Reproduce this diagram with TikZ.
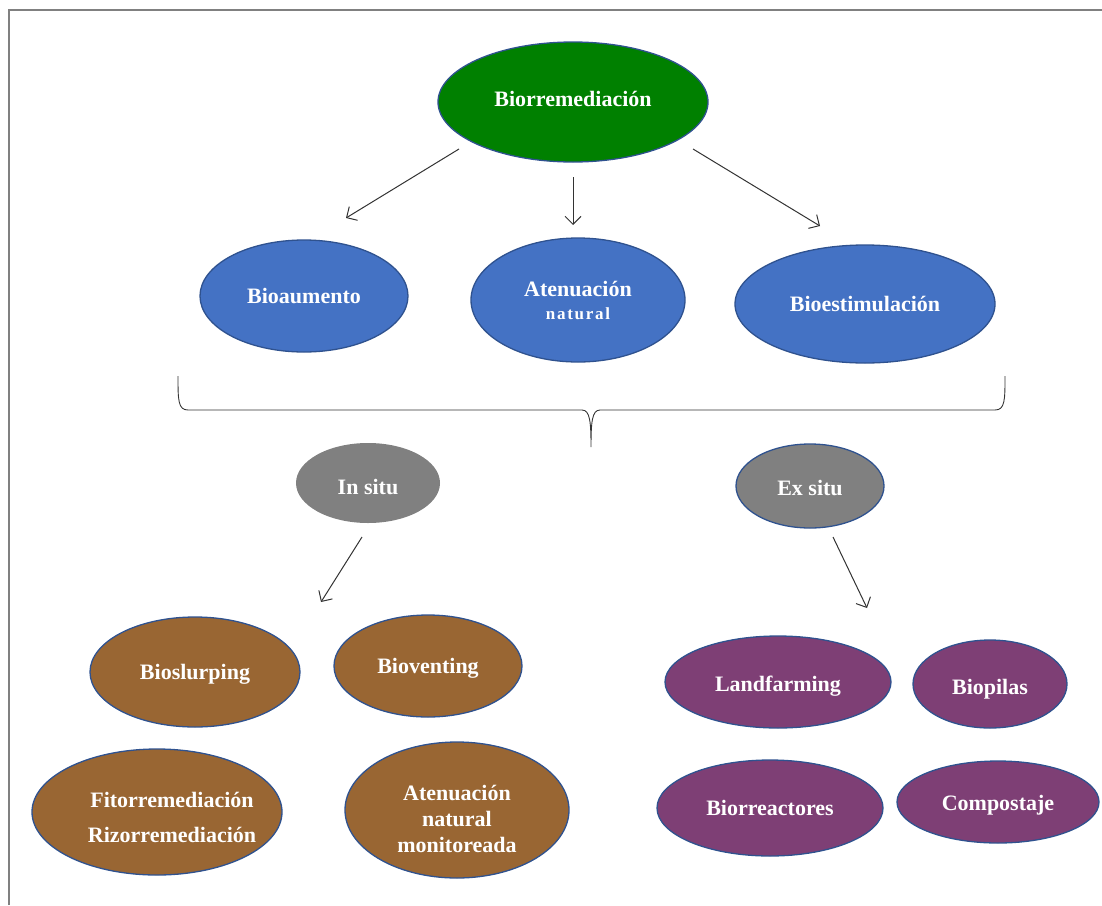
\documentclass[tikz,border=0pt]{standalone}
\usepackage{fontspec}
\setmainfont{Liberation Serif}
\usetikzlibrary{shapes.geometric,arrows.meta}

\definecolor{verde}{RGB}{0,128,0}
\definecolor{azul}{RGB}{68,114,196}
\definecolor{borde}{RGB}{47,82,143}
\definecolor{gris}{RGB}{128,128,128}
\definecolor{cafe}{RGB}{153,102,51}
\definecolor{morado}{RGB}{126,63,117}
\newcommand{\mover}[2]{\raisebox{#1}[\height][\depth]{#2}}

\begin{document}
\begin{tikzpicture}[x=1pt,y=-1pt,
  elip/.style={ellipse,draw=borde,line width=1.3pt,inner sep=0pt,text=white,align=center,
    font=\bfseries\fontsize{22}{26}\selectfont},
  texto/.style={inner sep=0pt,text=white,align=center,font=\bfseries\fontsize{22}{26}\selectfont},
  flecha/.style={draw=black!80,line width=1pt,-{Straight Barb[length=8pt,width=16pt]}}]
\useasboundingbox (0,0) rectangle (1102,905);
\draw[gris,line width=2pt] (9,905) -- (9,10) -- (1102,10);

% nivel 1
\node[elip,fill=verde,minimum width=270pt,minimum height=120pt] (bio) at (573,102) {\mover{3pt}{Biorremediación}};

% nivel 2
\node[elip,fill=azul,minimum width=208pt,minimum height=112pt] (aum) at (304,296) {Bioaumento};
\node[elip,fill=azul,minimum width=214pt,minimum height=124pt] (ate) at (578,300)
  {Atenuación\\[-3pt]{\fontsize{17}{19}\selectfont\addfontfeature{LetterSpace=10}natural}};
\node[elip,fill=azul,minimum width=260pt,minimum height=118pt] (est) at (865,304) {Bioestimulación};

\coordinate (f1a) at (459,149); \coordinate (f1b) at (346,218);
\coordinate (f2a) at (573,177); \coordinate (f2b) at (573,225);
\coordinate (f3a) at (693,149); \coordinate (f3b) at (820,226);
\draw[flecha] (f1a) -- (f1b);
\draw[flecha] (f2a) -- (f2b);
\draw[flecha] (f3a) -- (f3b);

% llave
\draw[black!80,line width=0.9pt] (178,376) .. controls (178,400) and (178,410) .. (188,410) -- (582,410)
  .. controls (590,410) and (591,422) .. (591,447)
  .. controls (591,422) and (592,410) .. (600,410) -- (995,410)
  .. controls (1005,410) and (1005,400) .. (1005,376);

% in situ / ex situ
\node[elip,fill=gris,draw=none,minimum width=144pt,minimum height=80pt] (ins) at (368,483) {\mover{-4pt}{In situ}};
\node[elip,fill=gris,minimum width=148pt,minimum height=84pt] (exs) at (810,486) {\mover{-2pt}{Ex situ}};

\coordinate (f4a) at (362,537); \coordinate (f4b) at (321,602);
\coordinate (f5a) at (833,537); \coordinate (f5b) at (867,608);
\draw[flecha] (f4a) -- (f4b);
\draw[flecha] (f5a) -- (f5b);

% in situ
\node[elip,fill=cafe,minimum width=210pt,minimum height=110pt] (slu) at (195,672) {\mover{-2pt}{Bioslurping}};
\node[elip,fill=cafe,minimum width=188pt,minimum height=102pt] (ven) at (428,666) {\mover{-2pt}{Bioventing}};
\node[elip,fill=cafe,minimum width=250pt,minimum height=126pt] (fit) at (157,812) {};
\node[texto,font=\bfseries\fontsize{22}{35}\selectfont] (fitt) at (172,817) {Fitorremediación\\Rizorremediación};
\node[elip,fill=cafe,minimum width=224pt,minimum height=136pt] (mon) at (457,810) {};
\node[texto] (mont) at (457,819) {Atenuación\\natural\\monitoreada};

% ex situ
\node[elip,fill=morado,minimum width=226pt,minimum height=92pt] (lan) at (778,682) {\mover{-4pt}{Landfarming}};
\node[elip,fill=morado,minimum width=154pt,minimum height=88pt] (pil) at (990,684) {\mover{-5pt}{Biopilas}};
\node[elip,fill=morado,minimum width=226pt,minimum height=96pt] (rea) at (770,808) {Biorreactores};
\node[elip,fill=morado,minimum width=202pt,minimum height=82pt] (com) at (998,802) {\mover{-3pt}{Compostaje}};
\end{tikzpicture}
\end{document}
